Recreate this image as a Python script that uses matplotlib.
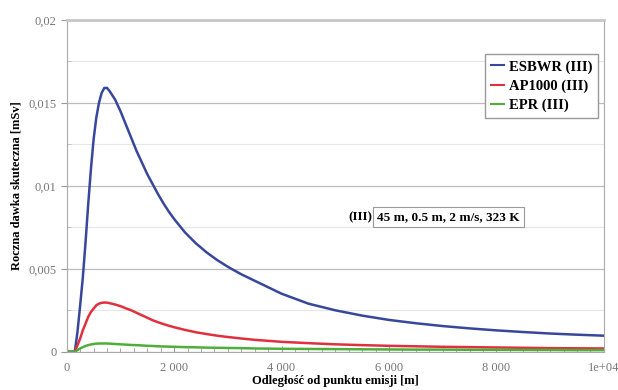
import matplotlib
matplotlib.use("Agg")
import matplotlib.pyplot as plt
from matplotlib.ticker import MultipleLocator, FixedLocator

# odległość od punktu emisji [m]
distance = [0, 100, 150, 200, 250, 300, 350, 400, 450, 500, 550, 600, 650, 700, 750, 800,
            900, 1000, 1100, 1200, 1300, 1400, 1500, 1600, 1700, 1800, 1900, 2000,
            2200, 2400, 2600, 2800, 3000, 3250, 3500,
            4000, 4500, 5000, 5500, 6000, 6500, 7000, 7500, 8000, 8500, 9000, 9500, 10000]

# roczna dawka skuteczna [mSv]
esbwr = [0, 0, 0, 0.0012, 0.0028, 0.0045, 0.0066, 0.0089, 0.0110, 0.0128, 0.0141, 0.0150,
         0.0156, 0.0159, 0.0159, 0.0157,
         0.0152, 0.0145, 0.0137, 0.0129, 0.0121, 0.0114, 0.0107, 0.0101, 0.0095, 0.00895,
         0.00845, 0.0080,
         0.0072, 0.00655, 0.0060, 0.00553, 0.00512, 0.00467, 0.00428,
         0.0035, 0.0029, 0.0025, 0.00218, 0.00192, 0.00172, 0.00155, 0.00141, 0.00129,
         0.00119, 0.0011, 0.00103, 0.00097]
ap1000 = [0, 0, 0, 0.0004, 0.0008, 0.0013, 0.0017, 0.0021, 0.0024, 0.0026, 0.0028, 0.0029,
          0.00295, 0.00297, 0.00296, 0.00293,
          0.00285, 0.00275, 0.00262, 0.0025, 0.00235, 0.0022, 0.00205, 0.0019, 0.00178,
          0.00167, 0.00157, 0.00148,
          0.00132, 0.00118, 0.00107, 0.00097, 0.00089, 0.0008, 0.00072,
          0.0006, 0.00052, 0.00045, 0.0004, 0.00036, 0.00033, 0.0003, 0.00028, 0.00026,
          0.00024, 0.00022, 0.00021, 0.0002]
epr = [0, 0, 0, 0.0001, 0.0002, 0.00028, 0.00035, 0.0004, 0.00044, 0.00047, 0.00049, 0.0005,
       0.0005, 0.0005, 0.0005, 0.00049,
       0.00047, 0.00045, 0.00043, 0.00041, 0.0004, 0.00038, 0.00036, 0.00035, 0.00033,
       0.00032, 0.00031, 0.0003,
       0.00028, 0.00027, 0.00025, 0.00024, 0.00023, 0.00022, 0.0002,
       0.00018, 0.00017, 0.00016, 0.00015, 0.00014, 0.00013, 0.00013, 0.00012, 0.00012,
       0.00011, 0.00011, 0.0001, 0.0001]

x_ticks = [0, 2000, 4000, 6000, 8000, 10000]
x_tick_labels = ["0", "2 000", "4 000", "6 000", "8 000", "1e+04"]
y_ticks = [0, 0.005, 0.01, 0.015, 0.02]
y_tick_labels = ["0", "0,005", "0,01", "0,015", "0,02"]

plt.rcParams['font.family'] = ['Liberation Serif', 'DejaVu Serif']

fig = plt.figure(figsize=(6.18, 3.90), dpi=100)
ax = fig.add_axes([0.108, 0.098, 0.869, 0.851])

ax.plot(distance, esbwr, color='#38479c', lw=1.8, label='ESBWR (III)')
ax.plot(distance, ap1000, color='#e0303e', lw=1.8, label='AP1000 (III)')
ax.plot(distance, epr, color='#4fae3a', lw=1.8, label='EPR (III)')

ax.set_xlim(0, 10000)
ax.set_ylim(0, 0.02)

ax.xaxis.set_major_locator(FixedLocator(x_ticks))
ax.set_xticklabels(x_tick_labels)
ax.xaxis.set_minor_locator(MultipleLocator(250))
ax.yaxis.set_major_locator(FixedLocator(y_ticks))
ax.set_yticklabels(y_tick_labels)
ax.yaxis.set_minor_locator(MultipleLocator(0.0025))

ax.tick_params(axis='both', which='major', labelsize=9, labelcolor='#777777',
               color='#999999', length=4)
ax.tick_params(axis='x', which='both', direction='in', pad=7)
ax.tick_params(axis='x', which='minor', length=3, color='#999999')
ax.tick_params(axis='y', which='minor', length=3, color='#bbbbbb', direction='in')

ax.grid(True, which='major', axis='y', color='#bdbdbd', lw=0.9)
ax.grid(True, which='minor', axis='y', color='#e6e6e6', lw=0.8)
for side in ['left', 'bottom', 'right']:
    ax.spines[side].set_color('#aaaaaa')
ax.spines['top'].set_color('#c8c8c8')
ax.spines['top'].set_linewidth(2)

ax.set_xlabel('Odległość od punktu emisji [m]', fontsize=9, fontweight='bold', labelpad=1)
ax.set_ylabel('Roczna dawka skuteczna [mSv]', fontsize=9, fontweight='bold', labelpad=4)

leg = ax.legend(loc='upper right', bbox_to_anchor=(0.995, 0.905),
                prop={'weight': 'bold', 'size': 10.5}, handlelength=0.9,
                handletextpad=0.35, labelspacing=0.4, borderpad=0.4,
                borderaxespad=0.2, fancybox=False, edgecolor='#999999', framealpha=1)
for line in leg.get_lines():
    line.set_linewidth(1.5)

ax.text(0.569, 0.41, '(III)', transform=ax.transAxes, fontsize=9.5,
        fontweight='bold', ha='right', va='center_baseline')
ax.text(0.578, 0.41, '45 m, 0.5 m, 2 m/s, 323 K', transform=ax.transAxes,
        fontsize=9.5, fontweight='bold', ha='left', va='center_baseline',
        bbox=dict(boxstyle='square,pad=0.3', fc='white', ec='#999999', lw=0.8))

fig.savefig('out.png', dpi=100)
